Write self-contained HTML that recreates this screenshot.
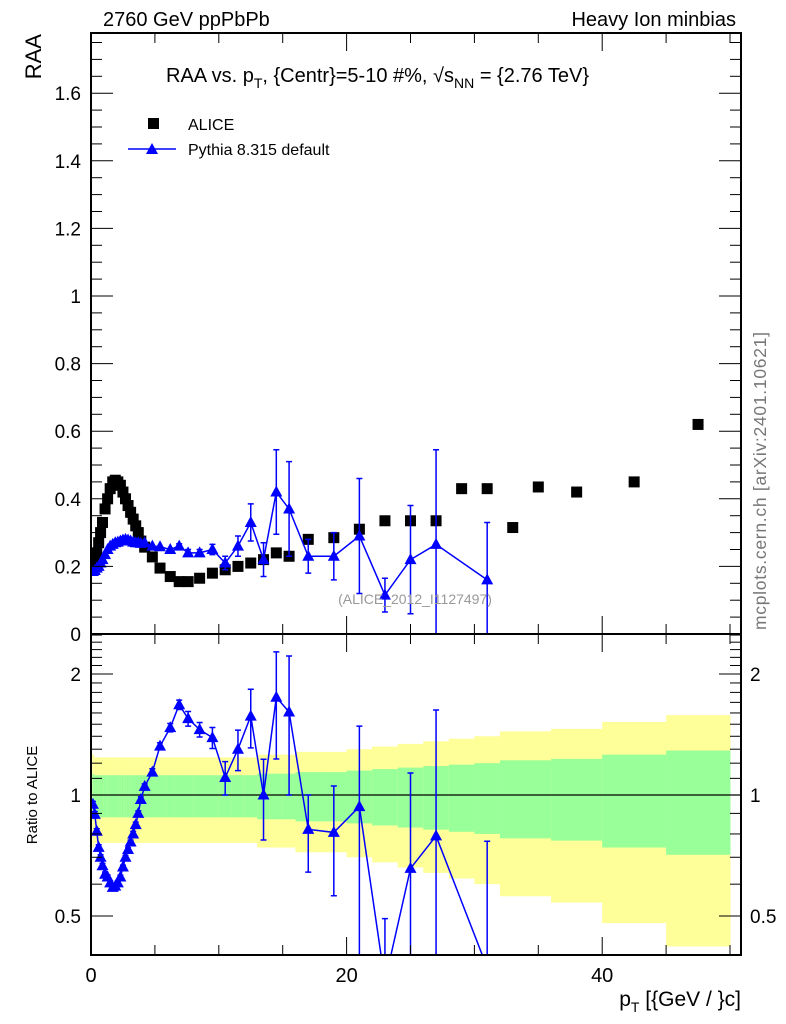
<!DOCTYPE html>
<html style="width:786px;height:1024px;overflow:hidden"><head><meta charset="utf-8"><style>
html,body{margin:0;padding:0;background:#fff;width:786px;height:1024px;overflow:hidden}
svg{display:block;position:absolute;left:0;top:0;font-family:"Liberation Sans",sans-serif}
</style></head><body>
<svg id="c" width="786" height="1024" viewBox="0 0 786 1024" overflow="hidden">
<g id="bands"></g>
<g id="marks"></g>
<g id="axes"></g>
<text x="103" y="26" font-size="20">2760 GeV ppPbPb</text>
<text x="736" y="26" font-size="20" text-anchor="end">Heavy Ion minbias</text>
<text x="166" y="82" font-size="20">RAA vs. p<tspan font-size="14" dy="6">T</tspan><tspan dy="-6">, {Centr}=5-10 #%, </tspan><tspan>√s</tspan><tspan font-size="14" dy="6">NN</tspan><tspan dy="-6"> = {2.76 TeV}</tspan></text>
<rect x="148" y="118" width="11" height="11" fill="#000"/>
<text x="188" y="130" font-size="16">ALICE</text>
<line x1="128" y1="149" x2="176" y2="149" stroke="#00f" stroke-width="1.5"/>
<polygon points="146,154 158,154 152,143" fill="#00f"/>
<text x="188" y="155" font-size="16">Pythia 8.315 default</text>
<text x="415" y="604" font-size="14" fill="#999" text-anchor="middle">(ALICE_2012_I1127497)</text>
<text transform="translate(41,34) rotate(-90)" font-size="22" text-anchor="end">RAA</text>
<text transform="translate(37,795) rotate(-90)" font-size="15" text-anchor="middle">Ratio to ALICE</text>
<text x="741" y="1006" font-size="21" text-anchor="end">p<tspan font-size="14" dy="6">T</tspan><tspan dy="-6"> [{GeV / }c]</tspan></text>
<text transform="translate(766,630) rotate(-90)" font-size="17.5" fill="#777" textLength="298">mcplots.cern.ch [arXiv:2401.10621]</text>
</svg>
<script>
const ptValues=[0.15,0.3,0.45,0.6,0.75,0.9,1.1,1.3,1.5,1.7,1.9,2.1,2.3,2.5,2.7,2.9,3.1,3.3,3.5,3.7,3.9,4.2,4.8,5.4,6.2,6.9,7.6,8.5,9.5,10.5,11.5,12.5,13.5,14.5,15.5,17,19,21,23,25,27,29,31,33,35,38,42.5,47.5];
const binEdges=[0.1,0.22,0.38,0.52,0.68,0.82,1.0,1.2,1.4,1.6,1.8,2.0,2.2,2.4,2.6,2.8,3.0,3.2,3.4,3.6,3.8,4.0,4.5,5.0,5.8,6.5,7.2,8,9,10,11,12,13,14,15,16,18,20,22,24,26,28,30,32,34,36,40,45,50];
const aliceValues=[0.195,0.21,0.24,0.27,0.30,0.33,0.37,0.40,0.43,0.45,0.455,0.45,0.44,0.42,0.40,0.38,0.36,0.34,0.32,0.30,0.275,0.257,0.228,0.195,0.17,0.155,0.155,0.165,0.18,0.19,0.2,0.21,0.22,0.24,0.23,0.28,0.285,0.31,0.335,0.335,0.335,0.43,0.43,0.315,0.435,0.42,0.45,0.62];
const aliceRelErr=[0.13,0.12,0.12,0.12,0.12,0.12,0.12,0.12,0.12,0.12,0.12,0.12,0.12,0.12,0.12,0.12,0.12,0.12,0.12,0.12,0.12,0.12,0.12,0.12,0.12,0.12,0.12,0.12,0.12,0.12,0.12,0.12,0.13,0.13,0.13,0.14,0.14,0.15,0.16,0.17,0.18,0.19,0.2,0.22,0.22,0.23,0.26,0.29];
const pythiaValues=[0.185,0.188,0.195,0.2,0.21,0.22,0.235,0.25,0.26,0.265,0.27,0.272,0.275,0.278,0.28,0.278,0.275,0.272,0.27,0.27,0.268,0.27,0.26,0.258,0.25,0.26,0.24,0.24,0.25,0.21,0.26,0.33,0.22,0.42,0.37,0.23,0.23,0.29,0.115,0.22,0.265,null,0.16,null,null,null,null,null];
const pythiaErr=[0.003,0.003,0.003,0.003,0.003,0.003,0.003,0.003,0.003,0.003,0.003,0.003,0.003,0.003,0.003,0.003,0.003,0.004,0.004,0.004,0.004,0.004,0.005,0.005,0.006,0.007,0.01,0.01,0.015,0.02,0.03,0.055,0.05,0.125,0.14,0.05,0.07,0.17,0.05,0.16,0.28,0,0.17,0,0,0,0,0];
const mainTicks=[0,0.2,0.4,0.6,0.8,1,1.2,1.4,1.6];
const mainTickLabels=["0","0.2","0.4","0.6","0.8","1","1.2","1.4","1.6"];
const ratioTicks=[0.5,1,2];
const ratioTickLabels=["0.5","1","2"];
const xTicks=[0,20,40];
const xTickLabels=["0","20","40"];

const L=91,R=741,T=33,MB=634,RB=955;
const X=v=>L+v*12.78;
const Y=v=>MB-v*338;
const lg=Math.log2;
const RY=v=>795-lg(v)*121;
const NS="http://www.w3.org/2000/svg";
function mk(tag,attrs,parent){const e=document.createElementNS(NS,tag);for(const k in attrs)e.setAttribute(k,attrs[k]);parent.appendChild(e);return e;}
const bands=document.getElementById('bands'),marks=document.getElementById('marks'),axes=document.getElementById('axes');
function clampR(v){return Math.max(0.39,Math.min(2.55,v));}

for(let i=0;i<ptValues.length;i++){
  const x0=X(binEdges[i]),x1=X(binEdges[i+1]),e=aliceRelErr[i];
  const yb=mk('rect',{x:x0,width:x1-x0+0.5,y:RY(clampR(1+2*e)),height:RY(clampR(1-2*e))-RY(clampR(1+2*e)),fill:'#ffff99'},bands);
  
  
  const gb=mk('rect',{x:x0,width:x1-x0+0.5,y:RY(1+e),height:RY(1-e)-RY(1+e),fill:'#99ff99'},bands);
  
  
}
const one=mk('line',{x1:L,x2:R,y1:RY(1),y2:RY(1),stroke:'#000','stroke-width':1.2},bands);



const defs=mk('defs',{},marks);
const cp=mk('clipPath',{id:'cm'},defs);mk('rect',{x:L,y:T,width:R-L,height:MB-T},cp);
const cr=mk('clipPath',{id:'cr'},defs);mk('rect',{x:L,y:MB,width:R-L,height:RB-MB},cr);
const gm=mk('g',{'clip-path':'url(#cm)'},marks);
const gr=mk('g',{'clip-path':'url(#cr)'},marks);

for(let i=0;i<ptValues.length;i++){
  const s=mk('rect',{x:X(ptValues[i])-5.5,y:Y(aliceValues[i])-5.5,width:11,height:11,fill:'#000'},gm);
  
  
}
function drawSeries(g,yf,vals,errs,name){
  let pts=[];
  for(let i=0;i<ptValues.length;i++){if(vals[i]!=null)pts.push(X(ptValues[i])+','+yf(vals[i]));}
  const pl=mk('polyline',{points:pts.join(' '),fill:'none',stroke:'#00f','stroke-width':1.5},g);
  
  
  for(let i=0;i<ptValues.length;i++){
    const v=vals[i];if(v==null)continue;
    const x=X(ptValues[i]),y=yf(v);
    if(errs[i]>0.006){
      const hi=yf(v+errs[i]),lo=yf(Math.max(v-errs[i],1e-4));
      const eb=mk('path',{d:`M${x},${hi}V${lo}M${x-3},${hi}h6M${x-3},${lo}h6`,stroke:'#00f','stroke-width':1.5,fill:'none'},g);
      
      
    }
    const t=mk('polygon',{points:`${x-6},${y+4.5} ${x+6},${y+4.5} ${x},${y-6.5}`,fill:'#00f'},g);
    
    
  }
}
drawSeries(gm,Y,pythiaValues,pythiaErr,'pythia');
const ratioVals=pythiaValues.map((v,i)=>v==null?null:v/aliceValues[i]);
const ratioErr=pythiaErr.map((e,i)=>e/aliceValues[i]);
drawSeries(gr,v=>RY(Math.max(v,0.05)),ratioVals,ratioErr,'ratio');

for(const [y0,y1,n] of [[T,MB,'main-frame'],[MB,RB,'ratio-frame']]){
  const f=mk('rect',{x:L,y:y0,width:R-L,height:y1-y0,fill:'none',stroke:'#000','stroke-width':2},axes);
  
  
}
function tick(x1,y1,x2,y2){mk('line',{x1,y1,x2,y2,stroke:'#000','stroke-width':1},axes);}
for(let v=0;v<=50;v+=5){
  const big=v%20===0,len=big?18:10,x=X(v);
  tick(x,MB,x,MB-len);tick(x,T,x,T+len);tick(x,RB,x,RB-len);tick(x,MB,x,MB+len);
}
xTicks.forEach((v,i)=>{const t=mk('text',{x:X(v),y:982,'font-size':20,'text-anchor':'middle'},axes);t.textContent=xTickLabels[i];

});
for(let k=0;k<=35;k++){const v=k*0.05,y=Y(v);if(y<T)break;const big=k%4===0,len=big?22:11;tick(L,y,L+len,y);tick(R,y,R-len,y);}
mainTicks.forEach((v,i)=>{const t=mk('text',{x:81,y:Y(v)+7,'font-size':19,'text-anchor':'end'},axes);t.textContent=mainTickLabels[i];

});
for(const v of [0.4,0.5,0.6,0.7,0.8,0.9,1,1.1,1.2,1.3,1.4,1.5,1.6,1.7,1.8,1.9,2,2.1,2.2,2.3,2.4,2.5]){const y=RY(v);if(y<MB||y>RB)continue;const big=ratioTicks.includes(v),len=big?22:11;tick(L,y,L+len,y);tick(R,y,R-len,y);}
ratioTicks.forEach((v,i)=>{for(const [x,a] of [[81,'end'],[750,'start']]){const t=mk('text',{x,y:RY(v)+7,'font-size':19,'text-anchor':a},axes);t.textContent=ratioTickLabels[i];

}});
</script>
</body></html>
